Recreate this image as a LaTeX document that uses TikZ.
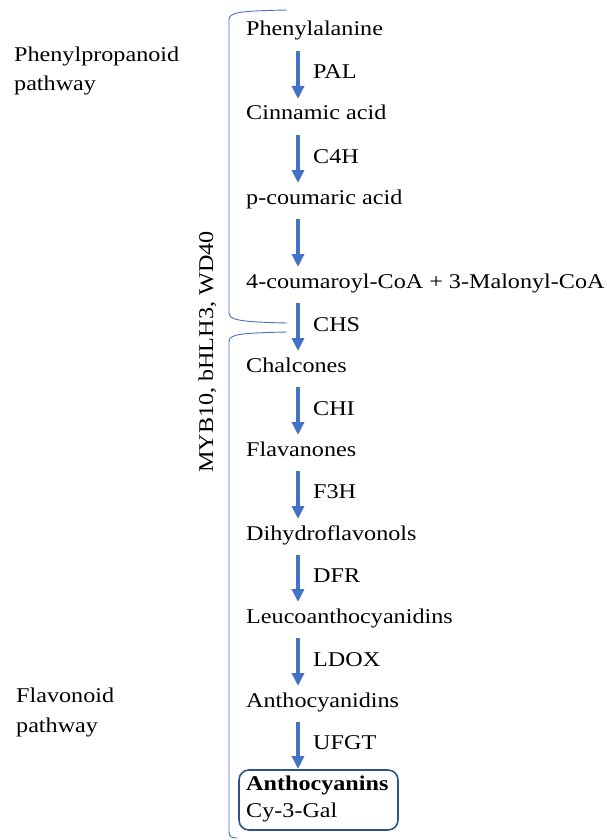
\documentclass[tikz,border=0pt]{standalone}
\usepackage{fontspec}
\setmainfont{Liberation Serif}[FakeStretch=1.15]
\usetikzlibrary{arrows.meta}
\definecolor{wordblue}{RGB}{68,114,196}
\definecolor{boxblue}{RGB}{47,82,143}
\begin{document}
\begin{tikzpicture}[x=1pt,y=-1pt,line width=0.4pt,
  every node/.style={font=\fontsize{21}{30}\selectfont,inner sep=0pt,anchor=base west},
  flow/.style={draw=wordblue,line width=3.5pt,-{Triangle[width=12pt,length=13pt]}},
  brace/.style={draw=wordblue,line width=0.9pt}]
\useasboundingbox (0,0) rectangle (606,840);
\node (phe) at (246,36) {Phenylalanine};
\node (cin) at (246,120) {Cinnamic acid};
\node (pcou) at (246,204) {p-coumaric acid};
\node (coa) at (246,288) {4-coumaroyl-CoA + 3-Malonyl-CoA};
\node (chal) at (246,372) {Chalcones};
\node (flav) at (246,456) {Flavanones};
\node (dhf) at (246,540) {Dihydroflavonols};
\node (leuco) at (246,623) {Leucoanthocyanidins};
\node (acyd) at (246,707) {Anthocyanidins};
\node (acyn) at (246,790) {\bfseries Anthocyanins};
\node (cy3g) at (246,817) {Cy-3-Gal};
\node (pal) at (313,79) {PAL};
\node (c4h) at (313,163) {C4H};
\node (chs) at (313,331) {CHS};
\node (chi) at (313,415) {CHI};
\node (f3h) at (313,498) {F3H};
\node (dfr) at (313,582) {DFR};
\node (ldox) at (313,666) {LDOX};
\node (ufgt) at (313,749) {UFGT};
\node (ppl1) at (14,62) {Phenylpropanoid};
\node (ppl2) at (14,91) {pathway};
\node (fl1) at (16,702) {Flavonoid};
\node (fl2) at (16,732) {pathway};
\node[rotate=90] (tf) at (213,473) {MYB10, bHLH3, WD40};
\draw[draw=boxblue,line width=1.6pt,rounded corners=10pt] (239,770) rectangle (398,830);
\draw[flow] ([xshift=52pt,yshift=-15pt]phe.base west) -- ([xshift=52pt,yshift=21pt]cin.base west);
\draw[flow] ([xshift=52pt,yshift=-15pt]cin.base west) -- ([xshift=52pt,yshift=21pt]pcou.base west);
\draw[flow] ([xshift=52pt,yshift=-15pt]pcou.base west) -- ([xshift=52pt,yshift=21pt]coa.base west);
\draw[flow] ([xshift=52pt,yshift=-15pt]coa.base west) -- ([xshift=52pt,yshift=21pt]chal.base west);
\draw[flow] ([xshift=52pt,yshift=-15pt]chal.base west) -- ([xshift=52pt,yshift=21pt]flav.base west);
\draw[flow] ([xshift=52pt,yshift=-15pt]flav.base west) -- ([xshift=52pt,yshift=21pt]dhf.base west);
\draw[flow] ([xshift=52pt,yshift=-15pt]dhf.base west) -- ([xshift=52pt,yshift=21pt]leuco.base west);
\draw[flow] ([xshift=52pt,yshift=-15pt]leuco.base west) -- ([xshift=52pt,yshift=21pt]acyd.base west);
\draw[flow] ([xshift=52pt,yshift=-15pt]acyd.base west) -- ([xshift=52pt,yshift=21pt]acyn.base west);
\draw[brace] (287,10) .. controls (240,11) and (229,12) .. (229,20) -- (229,313) .. controls (229,320) and (240,322) .. (287,323);
\draw[brace] (287,332) .. controls (240,333) and (229,334) .. (229,342) -- (229,832) .. controls (229,837) and (232,838) .. (237,838);
\end{tikzpicture}
\end{document}
